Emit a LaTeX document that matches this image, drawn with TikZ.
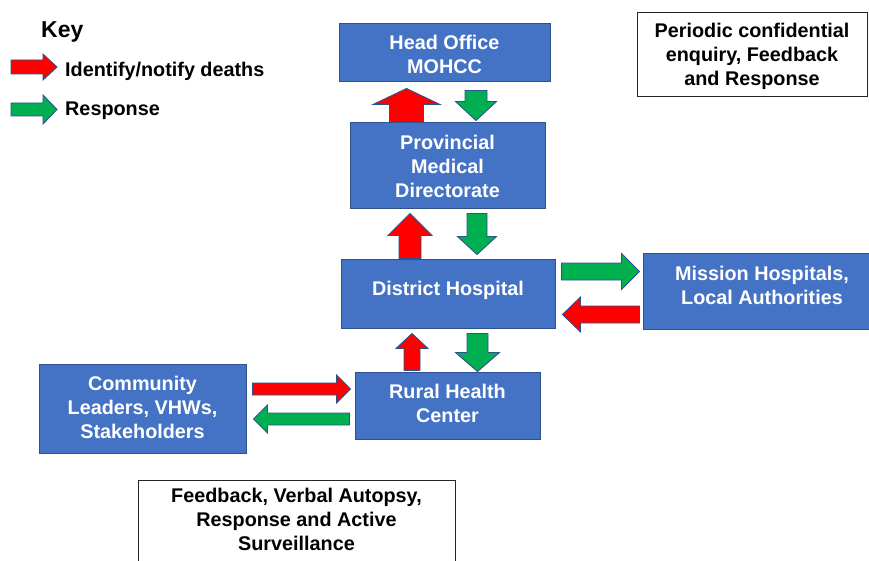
\documentclass[tikz,border=0pt]{standalone}
\usepackage{fontspec}
\setmainfont{Liberation Sans}
\usetikzlibrary{calc}
\definecolor{boxblue}{HTML}{4472C4}
\definecolor{boxedge}{HTML}{2F528F}
\definecolor{redarrow}{HTML}{FF0000}
\definecolor{greenarrow}{HTML}{00B050}
\newcommand\boxtext[2]{\raisebox{#1}[\height][\depth]{\begin{tabular}{@{}c@{}}#2\end{tabular}}}
% #1 style, #2 from, #3 to, #4 shaft half width, #5 head half width, #6 head length
\newcommand\fatarrow[6]{%
  \draw[#1] ($(#2)!#4pt!90:(#3)$) -- ($(#3)!#6pt!(#2)!#4pt!-90:(#2)$)
    -- ($(#3)!#6pt!(#2)!#5pt!-90:(#2)$) -- (#3)
    -- ($(#3)!#6pt!(#2)!#5pt!90:(#2)$) -- ($(#3)!#6pt!(#2)!#4pt!90:(#2)$)
    -- ($(#2)!#4pt!-90:(#3)$) -- cycle;}
\tikzset{
  bluebox/.style={draw=boxedge, line width=1pt, fill=boxblue, text=white,
    font=\bfseries\fontsize{19.8}{24}\selectfont, inner sep=0pt},
  notebox/.style={draw=black!85, line width=1pt, fill=white, text=black,
    font=\bfseries\fontsize{19.8}{24}\selectfont, inner sep=0pt},
  keytext/.style={anchor=base west, inner sep=0pt, font=\bfseries\fontsize{19.8}{24}\selectfont},
  redflow/.style={fill=redarrow, draw=boxedge, line width=0.9pt, line join=miter},
  greenflow/.style={fill=greenarrow, draw=boxedge, line width=0.9pt, line join=miter}
}
\begin{document}
\begin{tikzpicture}[x=1pt, y=-1pt]
\fill[white] (0,0) rectangle (869,561);
\useasboundingbox (0,0) rectangle (869,561);

% key
\node[anchor=base west, inner sep=0pt, font=\bfseries\fontsize{23}{27}\selectfont] (key) at (41,38) {Key};
\node[keytext] (kred) at (65,77) {Identify/notify deaths};
\node[keytext] (kgreen) at (65,116) {Response};
\coordinate (kr1) at (11,67);   \coordinate (kr2) at (57,67);
\coordinate (kg1) at (11,109.5); \coordinate (kg2) at (57,109.5);
\fatarrow{redflow}{kr1}{kr2}{7}{13}{14}
\fatarrow{greenflow}{kg1}{kg2}{6.5}{14.5}{14}

% boxes
\node[bluebox, minimum width=211pt, minimum height=58pt] (ho) at (444.5,53)
  {\boxtext{-4pt}{Head Office\\MOHCC}};
\node[bluebox, minimum width=195pt, minimum height=86pt] (pmd) at (447.5,166)
  {\boxtext{-3pt}{Provincial\\Medical\\Directorate}};
\node[bluebox, minimum width=214pt, minimum height=69pt] (dh) at (448,293.5)
  {\boxtext{3.3pt}{District Hospital}};
\node[bluebox, minimum width=238pt, minimum height=76pt] (mission) at (762,291)
  {\boxtext{3pt}{Mission Hospitals,\\Local Authorities}};
\node[bluebox, minimum width=185pt, minimum height=67pt] (rhc) at (447.5,405.5)
  {\boxtext{0pt}{Rural Health\\Center}};
\node[bluebox, minimum width=207pt, minimum height=89pt] (comm) at (142.5,408.5)
  {\boxtext{-1pt}{Community\\Leaders, VHWs,\\Stakeholders}};
\node[notebox, minimum width=230pt, minimum height=84pt] (enq) at (752,55)
  {\boxtext{-2pt}{Periodic confidential\\enquiry, Feedback\\and Response}};
\node[notebox, minimum width=317pt, minimum height=84pt] (fb) at (296.5,522)
  {\boxtext{0pt}{Feedback, Verbal Autopsy,\\Response and Active\\Surveillance}};

% arrow end points
\coordinate (a1s) at ($(pmd.north)+(-41,0)$);    \coordinate (a1e) at ($(ho.south)+(-38,6)$);
\coordinate (a2s) at ($(ho.south)+(31.5,8)$);    \coordinate (a2e) at ($(pmd.north)+(28.5,-2)$);
\coordinate (a3s) at ($(dh.north)+(-38,0)$);     \coordinate (a3e) at ($(pmd.south)+(-37.5,4)$);
\coordinate (a4s) at ($(pmd.south)+(29.5,4)$);   \coordinate (a4e) at ($(dh.north)+(29,-4)$);
\coordinate (a5s) at ($(dh.east)+(6,-22)$);      \coordinate (a5e) at ($(mission.west)+(-3,-19.5)$);
\coordinate (a6s) at ($(mission.west)+(-3,23.5)$); \coordinate (a6e) at ($(dh.east)+(7,21)$);
\coordinate (a7s) at ($(rhc.north)+(-35.5,-1)$); \coordinate (a7e) at ($(dh.south)+(-36,5)$);
\coordinate (a8s) at ($(dh.south)+(29.5,5)$);    \coordinate (a8e) at ($(rhc.north)+(30,0)$);
\coordinate (a9s) at ($(comm.east)+(6,-19.5)$);  \coordinate (a9e) at ($(rhc.west)+(-4,-16.5)$);
\coordinate (a10s) at ($(rhc.west)+(-5,13.5)$);  \coordinate (a10e) at ($(comm.east)+(7,10.5)$);

\fatarrow{redflow}{a1s}{a1e}{17}{33.5}{16}
\fatarrow{greenflow}{a2s}{a2e}{11}{20.5}{19}
\fatarrow{redflow}{a3s}{a3e}{11}{22}{22}
\fatarrow{greenflow}{a4s}{a4e}{10}{19.5}{18}
\fatarrow{greenflow}{a5s}{a5e}{8.5}{18}{18}
\fatarrow{redflow}{a6s}{a6e}{8.5}{17.5}{18}
\fatarrow{redflow}{a7s}{a7e}{8}{16}{15}
\fatarrow{greenflow}{a8s}{a8e}{10.5}{22}{19}
\fatarrow{redflow}{a9s}{a9e}{6}{14}{14}
\fatarrow{greenflow}{a10s}{a10e}{6}{14}{14}
\end{tikzpicture}
\end{document}
